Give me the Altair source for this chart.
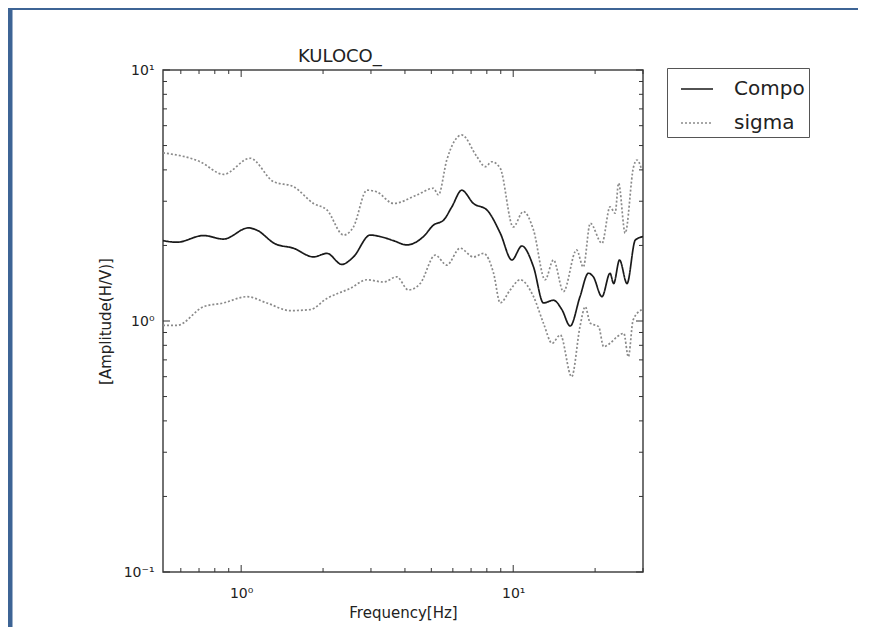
import altair as alt
import pandas as pd

title_text = "KULOCO_"

compo_freq = [0.516, 0.580, 0.727, 0.861, 1.064, 1.143, 1.333, 1.557, 1.844, 2.066, 2.345, 2.586,
              2.98, 3.24, 3.63, 4.06, 4.68, 5.09, 5.54, 5.95, 6.47, 7.14, 8.00, 8.96, 9.89, 10.76,
              11.88, 12.92, 14.06, 15.10, 16.2, 17.6, 18.9, 19.7, 21.2, 22.7, 23.4, 24.6, 26.2, 28.1, 30.0]
compo_amp = [2.09, 2.06, 2.19, 2.12, 2.35, 2.30, 2.03, 1.95, 1.80, 1.86, 1.68, 1.80,
             2.20, 2.17, 2.09, 2.01, 2.17, 2.41, 2.52, 2.85, 3.32, 2.94, 2.77, 2.24, 1.75, 1.99,
             1.64, 1.18, 1.21, 1.11, 0.955, 1.25, 1.55, 1.50, 1.25, 1.55, 1.41, 1.75, 1.41, 2.10, 2.17]

upper_freq = [0.516, 0.707, 0.861, 1.079, 1.314, 1.557, 1.844, 2.066, 2.38, 2.586, 2.90, 3.15, 3.63,
              4.43, 5.09, 5.31, 5.70, 6.47, 7.36, 7.89, 8.35, 8.96, 10.0, 10.9, 11.88, 13.1, 14.06,
              15.3, 17.1, 18.1, 19.2, 21.2, 22.7, 23.7, 24.4, 25.8, 27.7, 28.5, 29.7]
upper_amp = [4.68, 4.31, 3.84, 4.45, 3.59, 3.43, 2.94, 2.77, 2.20, 2.37, 3.32, 3.27, 2.94,
             3.18, 3.38, 3.18, 4.38, 5.51, 4.51, 4.12, 4.31, 4.06, 2.37, 2.73, 2.30, 1.46, 1.75,
             1.31, 1.92, 1.64, 2.45, 2.04, 2.85, 2.69, 3.54, 2.24, 4.12, 4.38, 4.0]

lower_freq = [0.516, 0.580, 0.727, 0.861, 1.05, 1.243, 1.514, 1.793, 2.066, 2.52, 2.90, 3.34, 3.73,
              4.12, 4.55, 5.17, 5.70, 6.38, 7.14, 7.78, 8.47, 8.96, 9.75, 10.6, 11.88, 12.92, 13.9,
              14.9, 16.4, 17.6, 18.4, 19.2, 20.6, 21.5, 22.7, 24.1, 25.5, 26.5, 27.6, 29.7]
lower_amp = [0.96, 0.96, 1.14, 1.18, 1.25, 1.18, 1.10, 1.11, 1.23, 1.35, 1.46, 1.43, 1.50,
             1.33, 1.41, 1.83, 1.67, 1.95, 1.80, 1.86, 1.55, 1.18, 1.33, 1.46, 1.25, 0.98, 0.815,
             0.88, 0.60, 0.95, 1.14, 0.98, 0.95, 0.79, 0.815, 0.866, 0.893, 0.72, 1.01, 1.11]

x_major = [1, 10]
x_minor = [0.6, 0.7, 0.8, 0.9, 2, 3, 4, 5, 6, 7, 8, 9, 20, 30]
y_major = [0.1, 1, 10]
y_minor = [0.2, 0.3, 0.4, 0.5, 0.6, 0.7, 0.8, 0.9, 2, 3, 4, 5, 6, 7, 8, 9]

series_names = ["Compo", "sigma"]
series_colors = ["#1a1a1a", "#8a8a8a"]

rows = []
for f, a in zip(compo_freq, compo_amp):
    rows.append({"freq": f, "amp": a, "series": "Compo", "line": "compo"})
for f, a in zip(upper_freq, upper_amp):
    rows.append({"freq": f, "amp": a, "series": "sigma", "line": "upper"})
for f, a in zip(lower_freq, lower_amp):
    rows.append({"freq": f, "amp": a, "series": "sigma", "line": "lower"})
df = pd.DataFrame(rows)

W, H = 480, 502
FONT = "DejaVu Sans"
xscale = alt.Scale(type="log", domain=[0.516, 30], nice=False)
yscale = alt.Scale(type="log", domain=[0.1, 10], nice=False)

x_axis = alt.Axis(values=x_major, ticks=False, domain=False, grid=False,
                  labelExpr="datum.value == 1 ? '10⁰' : '10¹'",
                  labelPadding=14, labelFontSize=14, labelFont=FONT, labelColor="#222",
                  title="Frequency[Hz]", titleFont=FONT, titleFontSize=15,
                  titleFontWeight="normal", titlePadding=5, titleColor="#222")
y_axis = alt.Axis(values=y_major, ticks=False, domain=False, grid=False,
                  labelExpr="datum.value == 1 ? '10⁰' : datum.value == 10 ? '10¹' : '10⁻¹'",
                  labelPadding=9, labelFontSize=14, labelFont=FONT, labelColor="#222",
                  title="[Amplitude(H/V)]", titleFont=FONT, titleFontSize=15,
                  titleFontWeight="normal", titlePadding=10, titleColor="#222")

legend = alt.Legend(orient="none", legendX=504, legendY=-2, title=None,
                    strokeColor="#555555", fillColor="white", padding=4,
                    symbolType="stroke", symbolSize=1024, symbolStrokeWidth=1.6,
                    symbolOffset=9, labelExpr="datum.label + ' '",
                    labelFontSize=20, labelFont=FONT, labelColor="#222222",
                    rowPadding=7, labelOffset=20)

lines = alt.Chart(df).mark_line(clip=True, strokeWidth=1.7, interpolate="monotone").encode(
    x=alt.X("freq:Q", scale=xscale, axis=x_axis),
    y=alt.Y("amp:Q", scale=yscale, axis=y_axis),
    color=alt.Color("series:N", scale=alt.Scale(domain=series_names, range=series_colors), legend=legend),
    strokeDash=alt.StrokeDash("series:N", scale=alt.Scale(domain=series_names, range=[[1, 0], [2, 2]]),
                              legend=legend),
    detail="line:N",
)


def tick_layer(vals, channel, length, side):
    d = pd.DataFrame({"v": vals})
    base = alt.Chart(d).mark_rule(color="#333333", strokeWidth=1)
    if channel == "x":
        enc = dict(x=alt.X("v:Q", scale=xscale, axis=x_axis))
        if side == "bottom":
            enc.update(y=alt.value(H), y2=alt.value(H - length))
        else:
            enc.update(y=alt.value(0), y2=alt.value(length))
    else:
        enc = dict(y=alt.Y("v:Q", scale=yscale, axis=y_axis))
        if side == "left":
            enc.update(x=alt.value(0), x2=alt.value(length))
        else:
            enc.update(x=alt.value(W), x2=alt.value(W - length))
    return base.encode(**enc)


ticks = [
    tick_layer(x_major, "x", 7, "bottom"), tick_layer(x_minor, "x", 4, "bottom"),
    tick_layer(x_major, "x", 7, "top"), tick_layer(x_minor, "x", 4, "top"),
    tick_layer(y_major, "y", 7, "left"), tick_layer(y_minor, "y", 4, "left"),
    tick_layer(y_major, "y", 7, "right"), tick_layer(y_minor, "y", 4, "right"),
]

title = alt.Chart(pd.DataFrame({"t": [title_text]})).mark_text(
    align="left", baseline="alphabetic", font=FONT, fontSize=18, color="#222222"
).encode(text="t:N", x=alt.value(135), y=alt.value(-8))

frame_df = pd.DataFrame({"k": ["frame"]})
frame_left = alt.Chart(frame_df).mark_rule(color="#3d6495", strokeWidth=5).encode(
    x=alt.value(-153), x2=alt.value(-153), y=alt.value(-62), y2=alt.value(557))
frame_top = alt.Chart(frame_df).mark_rule(color="#3d6495", strokeWidth=4).encode(
    x=alt.value(-155), x2=alt.value(700), y=alt.value(-62), y2=alt.value(-62))

chart = alt.layer(lines, *ticks, title, frame_left, frame_top).properties(
    width=W, height=H,
    autosize=alt.AutoSizeParams(type="none"),
    padding={"left": 155, "top": 62, "right": 215, "bottom": 55},
    background="white",
).configure_view(stroke="#444444", strokeWidth=1.5)

chart.save("out.html", embed_options={"renderer": "svg", "actions": False})
